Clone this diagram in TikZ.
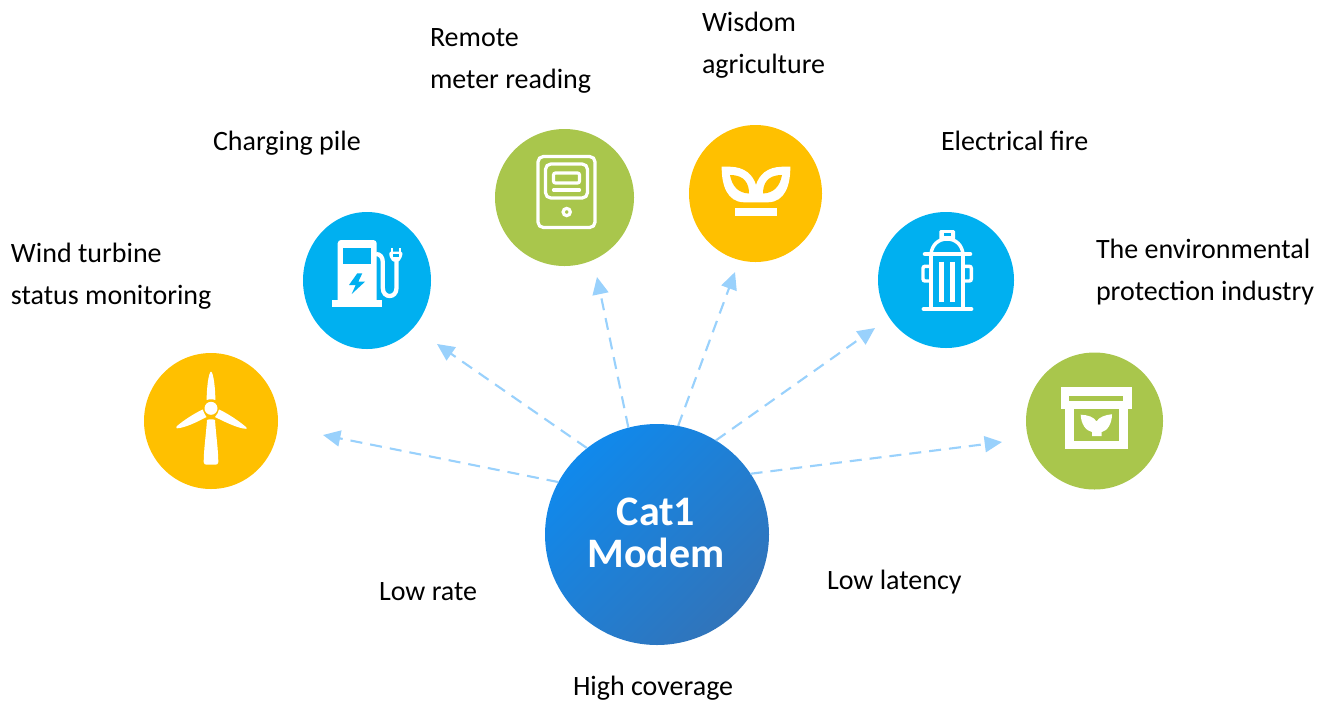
\documentclass[tikz,border=0pt]{standalone}
\usepackage{fontspec}
\setmainfont{Carlito}
\usetikzlibrary{arrows.meta,shapes.geometric}
\definecolor{cyellow}{HTML}{FFC000}
\definecolor{cblue}{HTML}{00B0F0}
\definecolor{cgreen}{HTML}{A9C64C}
\definecolor{carrow}{HTML}{99D1FC}
\definecolor{cmainA}{HTML}{1089EC}
\definecolor{cmainB}{HTML}{3174BA}
\tikzset{
  x=0.75pt,y=-0.75pt,
  disc/.style={ellipse,inner sep=0pt,outer sep=0pt,draw=none},
  lab/.style={anchor=base west,inner sep=0pt,outer sep=0pt,align=left,text=black,font=\fontsize{21}{31.5}\selectfont},
  link/.style={draw=carrow,line width=1.6pt,dash pattern=on 9pt off 6pt,-{Triangle[length=13pt,width=12pt,fill=carrow]}},
  ink/.style={fill=white,draw=none},
  ln/.style={draw=white,line width=2.4pt},
  lnr/.style={draw=white,line width=2.4pt,line cap=round},
}
\begin{document}
\begin{tikzpicture}
\useasboundingbox (0,0) rectangle (1317,701);
% discs
\node[disc,fill=cyellow,minimum width=100.5pt,minimum height=102pt] (wind) at (211,421) {};
\node[disc,fill=cblue,minimum width=96pt,minimum height=102.75pt] (charge) at (367,280.5) {};
\node[disc,fill=cgreen,minimum width=104.25pt,minimum height=102.75pt] (meter) at (564.5,197.5) {};
\node[disc,fill=cyellow,minimum width=99.75pt,minimum height=102.75pt] (agri) at (755.5,193.5) {};
\node[disc,fill=cblue,minimum width=102pt,minimum height=102pt] (fire) at (946,280) {};
\node[disc,fill=cgreen,minimum width=102.75pt,minimum height=102.75pt] (env) at (1094.5,421) {};
\node[disc,minimum width=168pt,minimum height=165.75pt,left color=cmainA,right color=cmainB,shading angle=45] (main) at (657,534.5) {};
\node[text=white,align=center,inner sep=0pt,font=\fontsize{31.5}{31.3}\selectfont\bfseries] (title) at (656,533) {Cat1\\Modem};
% connector ends
\coordinate (tipwind) at (323,435);
\coordinate (tipcharge) at (437,344);
\coordinate (tipmeter) at (597,277);
\coordinate (tipagri) at (735,272);
\coordinate (tipfire) at (875,328);
\coordinate (tipenv) at (1002,442);
\draw[link] (main.152.3) -- (tipwind);
\draw[link] (main.129.9) -- (tipcharge);
\draw[link] (main.105.7) -- (tipmeter);
\draw[link] (main.79.7) -- (tipagri);
\draw[link] (main.58.2) -- (tipfire);
\draw[link] (main.33.5) -- (tipenv);
% labels
\node[lab] (l1) at (11,304) {Wind turbine\\status monitoring};
\node[lab] (l2) at (213,150) {Charging pile};
\node[lab] (l3) at (430,88) {Remote\\meter reading};
\node[lab] (l4) at (702,73) {Wisdom\\agriculture};
\node[lab] (l5) at (941,150) {Electrical fire};
\node[lab] (l6) at (1096,300) {The environmental\\protection industry};
\node[lab] (l7) at (379,600) {Low rate};
\node[lab] (l8) at (827,589) {Low latency};
\node[lab] (l9) at (573,695) {High coverage};
% wind turbine icon
\fill[white] (211,408.3) circle (6.5);
\path[ink] (211,371.7) .. controls (213.5,372) and (215.5,390) .. (215.3,400) .. controls (213,399) and (209,399) .. (206.7,400) .. controls (206.5,390) and (208.5,372) .. (211,371.7) -- cycle;
\path[ink] (207,420) .. controls (209,419) and (213,419) .. (215,420) .. controls (216,435) and (218.3,450) .. (218.3,462) .. controls (218.3,464) and (217,464.5) .. (216,464.5) -- (206,464.5) .. controls (205,464.5) and (203.7,464) .. (203.7,462) .. controls (203.7,450) and (206,435) .. (207,420) -- cycle;
\path[ink] (202.7,409.5) .. controls (203.5,412) and (205,415) .. (206.5,417) .. controls (198,421.5) and (185,428) .. (177,428.3) .. controls (176,428) and (176,427) .. (177,426) .. controls (184,420) and (195,413) .. (202.7,409.5) -- cycle;
\path[ink] (219,409.5) .. controls (218.5,412) and (217,415) .. (215,417) .. controls (224,421.5) and (238,428.5) .. (246,428.8) .. controls (247,428.5) and (247,428) .. (246,427) .. controls (239,421) and (227,413) .. (219,409.5) -- cycle;
% charging pile icon
\path[ink,rounded corners=2.5pt] (337.7,303) -- (337.7,240) -- (376.7,240) -- (376.7,303) -- cycle;
\path[ink] (332.3,300) rectangle (381.7,306.7);
\fill[cblue] (342.7,248.3) rectangle (371,264.3);
\fill[cblue] (357.3,273.3) -- (349,285) -- (355.7,285) -- (351.7,294) -- (365,281.7) -- (358.3,281.7) -- (362.3,273.3) -- cycle;
\draw[white,line width=3.2pt] (376,254) .. controls (380,254) and (382.8,257) .. (382.8,262) -- (382.8,288) .. controls (382.8,298.7) and (396.5,298.7) .. (396.5,288) -- (396.5,260);
\path[ink,rounded corners=1pt] (389.3,251.7) -- (402.3,251.7) -- (402.3,256) -- (399,261.7) -- (392.7,261.7) -- (389.3,256) -- cycle;
\path[ink] (390.7,248.3) rectangle (392.9,252);
\path[ink] (398.8,248.3) rectangle (401,252);
\fill[cblue] (392.7,254) rectangle (399,257);
% meter icon
\draw[ln,rounded corners=4pt] (538,156.5) rectangle (595,227.5);
\draw[ln,rounded corners=4pt] (545.5,164) rectangle (587.5,198);
\draw[ln,rounded corners=1.5pt] (553.5,173) rectangle (579.5,183);
\draw[lnr] (553.5,190) -- (579.5,190);
\draw[ln] (566.7,212) circle (3.6);
% plant icon
\path[ink] (735,207.7) rectangle (776.7,216);
\path[ink] (721.7,166.7) -- (730,166.7) .. controls (745,167) and (753,175) .. (756,185) .. controls (759,175) and (767,167) .. (782,166.7) -- (790.3,166.7) .. controls (790.5,185) and (785,202) .. (768,202.3) -- (744,202.3) .. controls (727,202) and (721.5,185) .. (721.7,166.7) -- cycle;
\fill[cyellow] (730,175) .. controls (745,175) and (749,184) .. (749,193.5) .. controls (738,193) and (732,186) .. (730,175) -- cycle;
\fill[cyellow] (782,175) .. controls (767,175) and (763,184) .. (763,193.5) .. controls (774,193) and (780,186) .. (782,175) -- cycle;
% hydrant icon
\path[ink,rounded corners=1pt] (939.3,230) rectangle (955,240);
\fill[cblue] (944.3,233.3) rectangle (950.7,236);
\draw[white,line width=2.6pt] (931,254) .. controls (932,245) and (938,239) .. (947,239) .. controls (956,239) and (962,245) .. (963,254);
\draw[white,line width=3.4pt,line cap=round] (925,254) -- (970,254);
\draw[white,line width=2.6pt] (931,254) -- (931,309);
\draw[white,line width=2.6pt] (963,254) -- (963,309);
\draw[white,line width=3.4pt] (941.7,261.7) -- (941.7,301.7);
\draw[white,line width=3.4pt] (952.7,261.7) -- (952.7,301.7);
\draw[white,line width=2.6pt,rounded corners=1.5pt] (931,266.3) -- (923,266.3) -- (923,281) -- (931,281);
\draw[white,line width=2.6pt,rounded corners=1.5pt] (963,266.3) -- (971.3,266.3) -- (971.3,281) -- (963,281);
\draw[white,line width=3.6pt,line cap=round] (924,309) -- (971,309);
% box icon
\path[ink] (1060.7,387.3) rectangle (1132.3,409.3);
\path[ink] (1065.3,409.3) rectangle (1127.7,449.3);
\fill[cgreen] (1069.3,396) rectangle (1123.3,400.7);
\fill[cgreen] (1074,409.3) rectangle (1119.3,440.7);
\path[ink] (1080.7,414.7) .. controls (1088,415) and (1094,417) .. (1096.5,421.5) .. controls (1099,417) and (1105,415) .. (1112,414.2) .. controls (1112,424) and (1107,431) .. (1101.7,432) -- (1101.7,436) -- (1092,436) -- (1092,432) .. controls (1086,431) and (1081,424) .. (1080.7,414.7) -- cycle;
\end{tikzpicture}
\end{document}
